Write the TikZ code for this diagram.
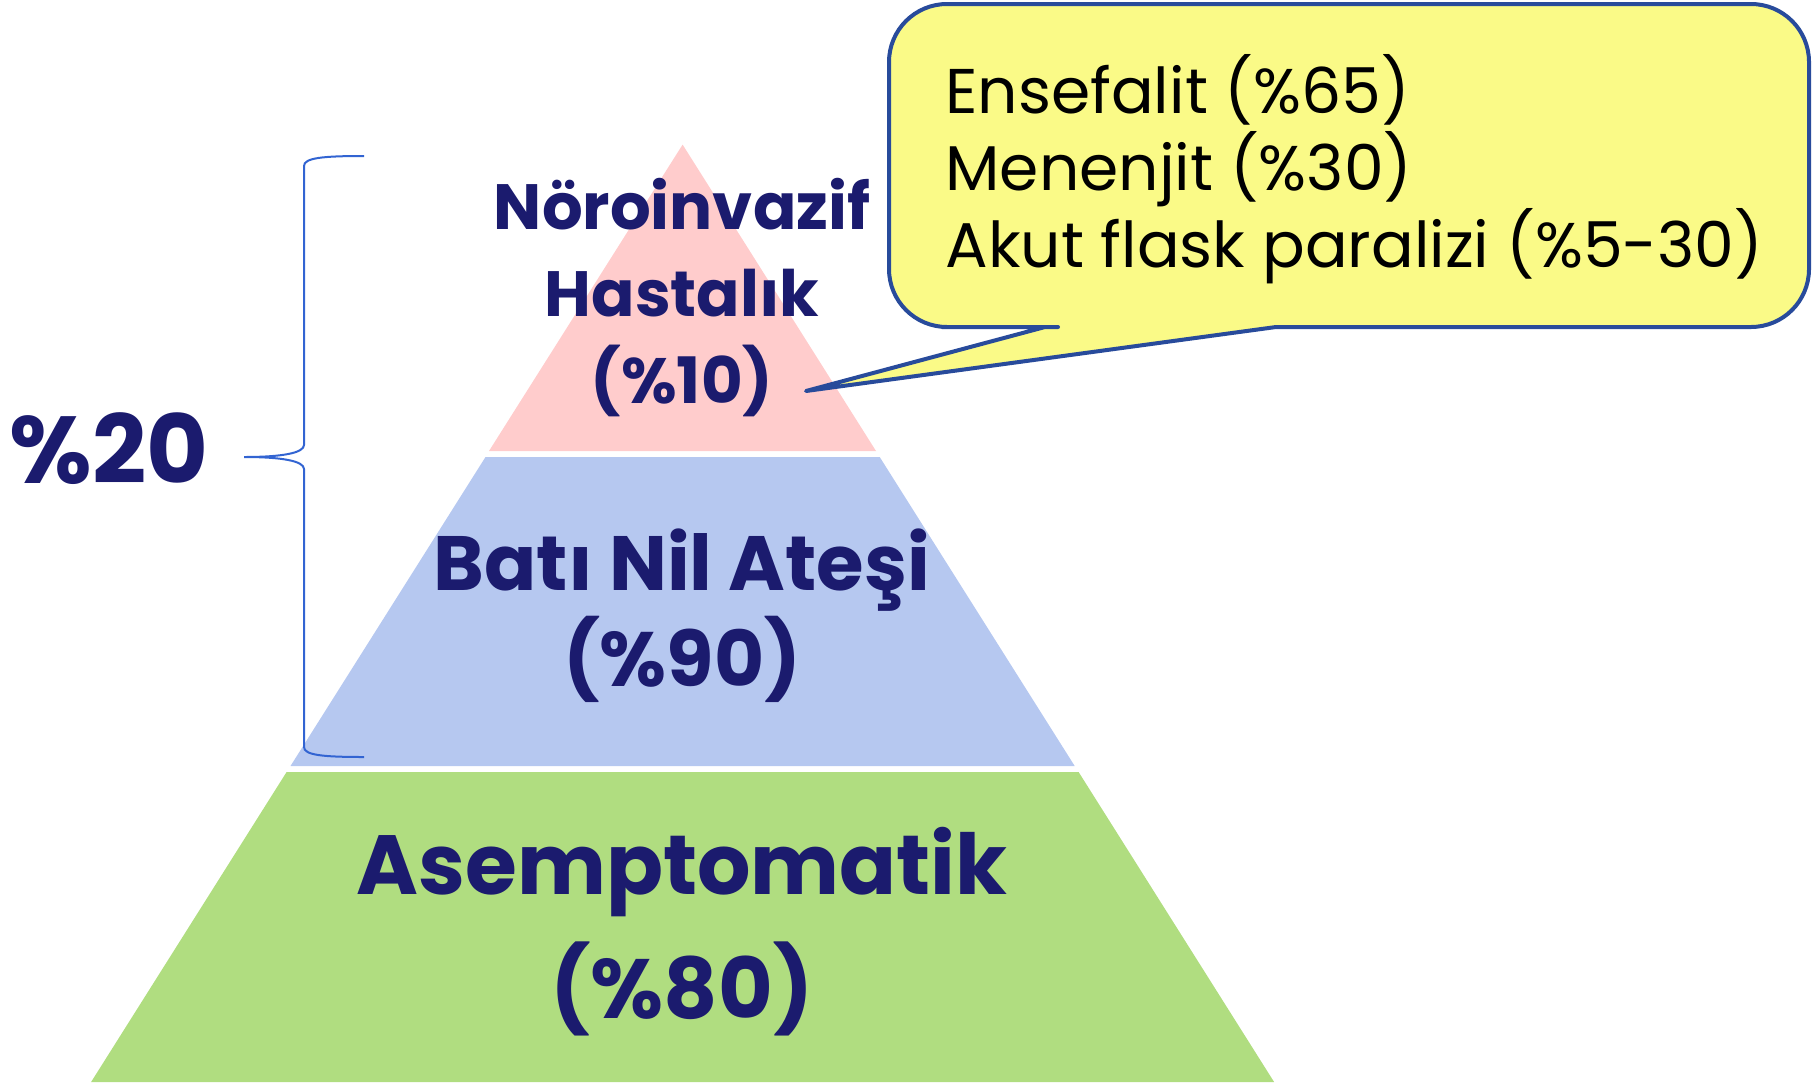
\documentclass[tikz,border=0pt]{standalone}
\usepackage{fontspec}
\setmainfont{Poppins}
\usepackage{xcolor}
\usepackage{tikz}
\usetikzlibrary{positioning}

\definecolor{pinkband}{RGB}{255,204,204}
\definecolor{blueband}{RGB}{182,200,240}
\definecolor{greenband}{RGB}{176,221,128}
\definecolor{navytext}{RGB}{27,27,110}
\definecolor{calloutfill}{RGB}{250,250,135}
\definecolor{calloutline}{RGB}{40,75,155}
\definecolor{bracecol}{RGB}{50,100,210}

\tikzset{
  bandtext/.style={text=navytext, align=center, inner sep=0pt},
  calloutbox/.style={draw=calloutline, fill=calloutfill, line width=2pt, line join=round},
}

\begin{document}
\begin{tikzpicture}[x=0.5pt,y=0.5pt,yscale=-1,xscale=1]
\useasboundingbox (0,0) rectangle (1814,1082);
%Pyramid bands
\fill [pinkband] (682.6,144.6) -- (876,451) -- (489,451) -- cycle ;
\fill [blueband] (485.5,457) -- (879.7,457) -- (1074.7,766) -- (290.5,766) -- cycle ;
\fill [greenband] (286.6,772) -- (1078.6,772) -- (1274.1,1082) -- (91.1,1082) -- cycle ;
% Text Node
\node [bandtext, font=\bfseries\fontsize{32}{43.5}\selectfont] (noro) at (682,298) {Nöroinvazif\\Hastalık\\(\%10)};
% Text Node
\node [bandtext, font=\bfseries\fontsize{38.5}{48}\selectfont] (bati) at (682,616) {Batı Nil Ateşi\\(\%90)};
% Text Node
\node [bandtext, font=\bfseries\fontsize{42}{62}\selectfont] (asemp) at (682,932) {Asemptomatik\\(\%80)};
% Text Node
\node [bandtext, font=\bfseries\fontsize{47.5}{60}\selectfont] (yuzde) at (109,449) {\%20};
%Brace
\draw [color=bracecol, line width=1pt] (364,156) .. controls (322,156) and (304,158) .. (304,166) -- (304,445) .. controls (304,453) and (282,457) .. (244,457) .. controls (282,457) and (304,461) .. (304,469) -- (304,747) .. controls (304,755) and (322,757) .. (364,757) ;
%Callout
\coordinate (tip) at (806,391);
\draw [calloutbox] (tip) -- (1276,327) -- (1320,327) [rounded corners=29pt] -- (1809,327) -- (1809,4) -- (889,4) -- (889,327) -- (1000,327) [sharp corners] -- (1045,327) -- cycle ;
% Text Node
\node [anchor=west, align=left, inner sep=0pt, font=\fontsize{31.6}{38.5}\selectfont] (klinik) at (945,169) {Ensefalit (\%65)\\Menenjit (\%30)\\Akut flask paralizi (\%5-30)};
\end{tikzpicture}
\end{document}
